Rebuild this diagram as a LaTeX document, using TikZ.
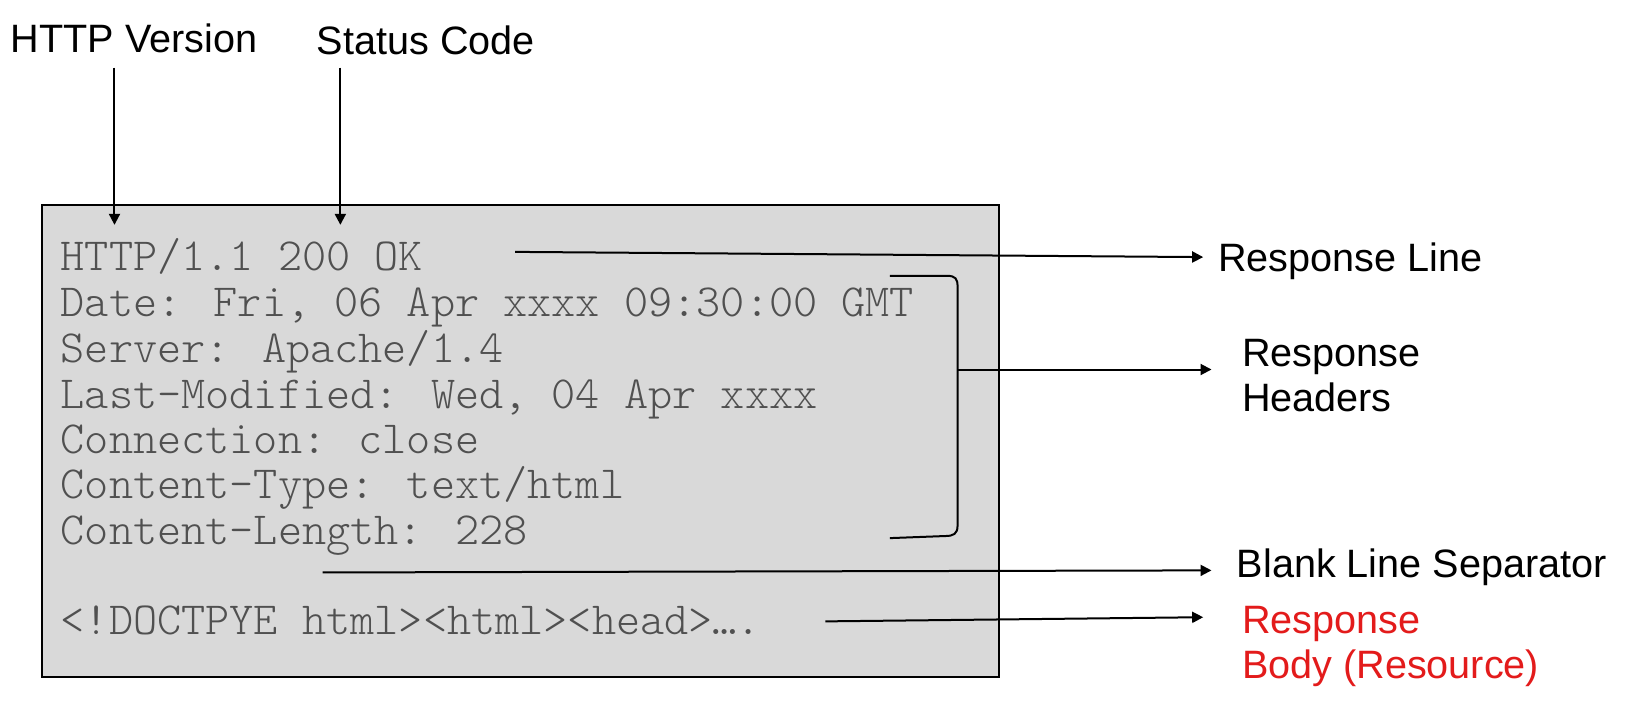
\documentclass[tikz,border=0pt]{standalone}
\usepackage{fontspec}
\setmainfont{Liberation Sans}
\newfontfamily\monof{Latin Modern Mono Light}
\usetikzlibrary{arrows.meta}
\definecolor{boxgray}{HTML}{D9D9D9}
\definecolor{codegray}{HTML}{505050}
\definecolor{bodyred}{HTML}{E31B1B}
\begin{document}
\begin{tikzpicture}[x=0.5204pt,y=-0.5204pt,
  lbl/.style={anchor=base west,inner sep=0pt,font=\fontsize{19.8}{23}\selectfont},
  code/.style={anchor=base west,inner sep=0pt,text=codegray,font=\monof\fontsize{23}{26}\selectfont},
  conn/.style={line width=1pt,-{Triangle[length=5.5pt,width=5.5pt]}},
  plain/.style={line width=1pt}]
\useasboundingbox (0,0) rectangle (1568,690);
\draw[line width=1pt,fill=boxgray] (40,197) rectangle (960,650);
\node[inner sep=0pt] (box) at (500,423) {};
% labels
\node[lbl] (ver) at (10,50) {HTTP Version};
\node[lbl] (stat) at (304,52) {Status Code};
\node[lbl] (rline) at (1170,261) {Response Line};
\node[lbl] (rh1) at (1193,352) {Response};
\node[lbl] (rh2) at (1193,395) {Headers};
\node[lbl] (blank) at (1188,555) {Blank Line Separator};
\node[lbl,text=bodyred] (rb1) at (1193,609) {Response};
\node[lbl,text=bodyred] (rb2) at (1193,652) {Body (Resource)};
% code lines
\node[code] (l1) at (58,260) {HTTP/1.1 200 OK};
\node[code] (l2) at (58,304) {Date: Fri, 06 Apr xxxx 09:30:00 GMT};
\node[code] (l3) at (58,348) {Server: Apache/1.4};
\node[code] (l4) at (58,392) {Last-Modified: Wed, 04 Apr xxxx};
\node[code] (l5) at (58,436) {Connection: close};
\node[code] (l6) at (58,479) {Content-Type: text/html};
\node[code] (l7) at (58,523) {Content-Length: 228};
\node[code] (l9) at (58,610) {<!DOCTPYE html><html><head>….};
% coordinates
\coordinate (v0) at (110,65);
\coordinate (v1) at (110,216);
\coordinate (s0) at (327,65);
\coordinate (s1) at (327,216);
\coordinate (r0) at (495,242);
\coordinate (r1) at (1156,247);
\coordinate (h0) at (920,355);
\coordinate (h1) at (1164,355);
\coordinate (b0) at (310,550);
\coordinate (b1) at (1164,548);
\coordinate (d0) at (793,597);
\coordinate (d1) at (1156,593);
% connectors
\draw[conn] (v0) -- (v1);
\draw[conn] (s0) -- (s1);
\draw[conn] (r0) -- (r1);
\draw[conn] (h0) -- (h1);
\draw[conn] (b0) -- (b1);
\draw[conn] (d0) -- (d1);
% bracket
\draw[plain] (855,265) -- (910,265) .. controls (918,265) and (920,268) .. (920,275) -- (920,505) .. controls (920,513) and (916,515) .. (908,515) -- (855,517);
\end{tikzpicture}
\end{document}
